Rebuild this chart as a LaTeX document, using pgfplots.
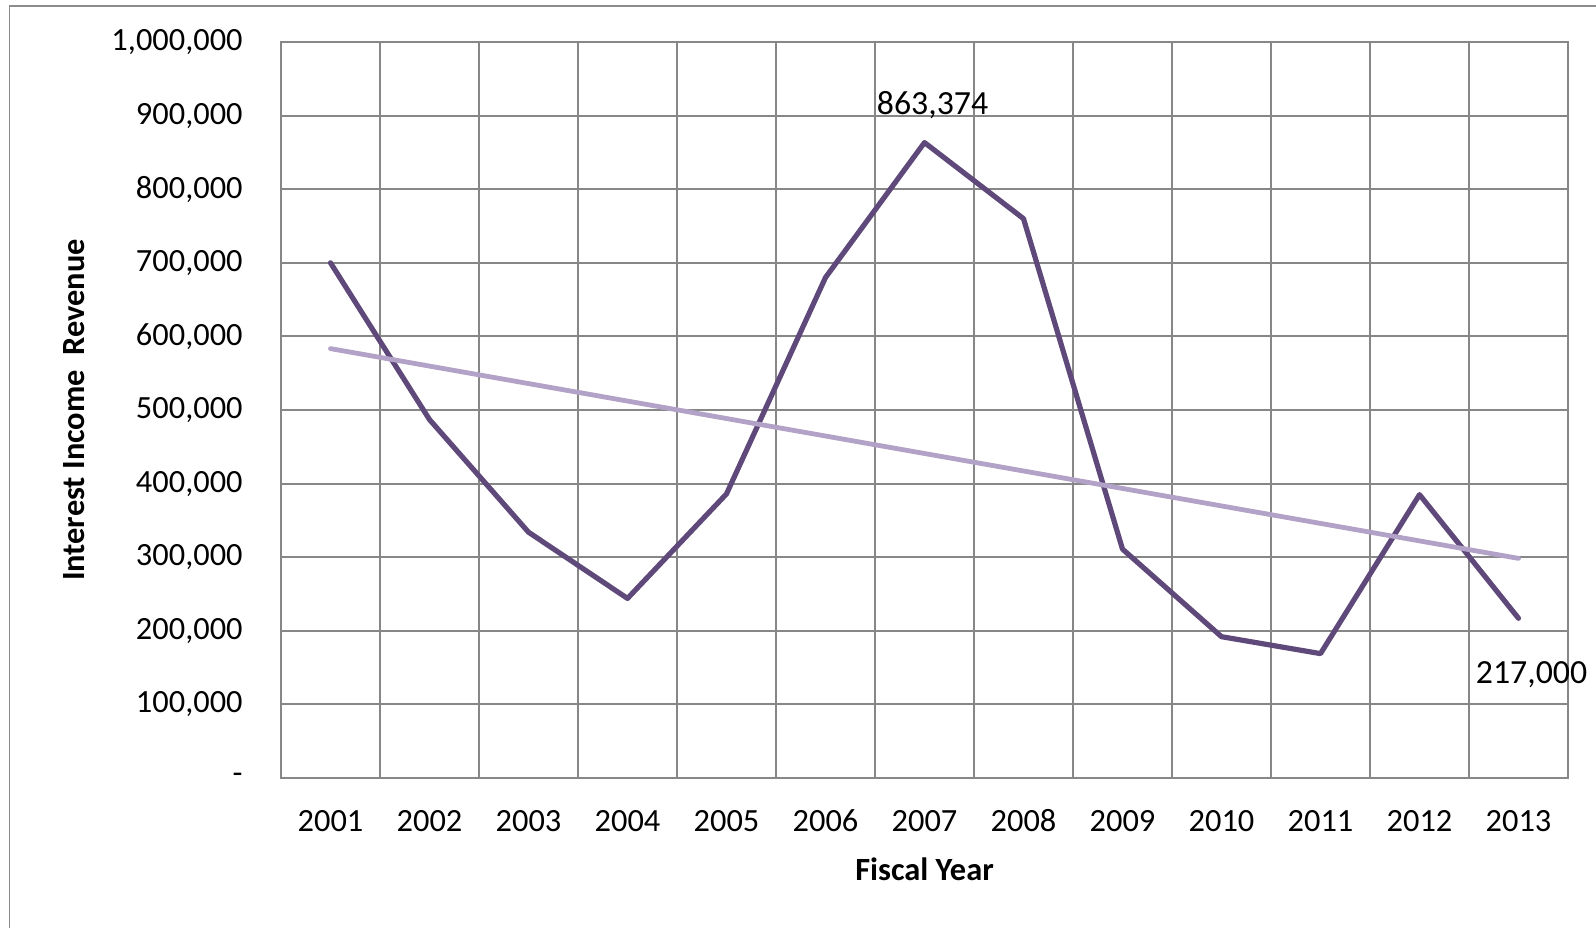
\documentclass[border=0pt]{standalone}
\usepackage{pgfplots}
\pgfplotsset{compat=1.18}
\usepackage{fontspec}
\setmainfont{Carlito}

\definecolor{gridgray}{HTML}{878787}
\definecolor{framegray}{HTML}{8C8C8C}
\definecolor{revenue}{HTML}{5F497A}
\definecolor{trend}{HTML}{B3A2C7}

\newcommand{\chartfont}{\fontsize{16.2}{19}\selectfont}
\newcommand{\valuefont}{\fontsize{16.9}{20}\selectfont}

\begin{document}
\begin{tikzpicture}
% page extent and the chart-area frame (left and top edges)
\useasboundingbox (-140.5pt,-74.5pt) rectangle (657.5pt,389pt);
\draw[framegray, line width=0.8pt] (-135.75pt,-80pt) -- (-135.75pt,386pt) -- (700pt,386pt);

\begin{axis}[
  at={(0,0)}, anchor=south west,
  scale only axis,
  width=643.5pt, height=368pt,
  xmin=0.5, xmax=13.5,
  ymin=0, ymax=1000000,
  xtick={1,...,13},
  xticklabels={2001,2002,2003,2004,2005,2006,2007,2008,2009,2010,2011,2012,2013},
  minor xtick={1.5,2.5,...,12.5},
  xminorgrids=true,
  ytick={0,100000,...,1000000},
  yticklabels={{-\hspace{7pt}},{100,000},{200,000},{300,000},{400,000},{500,000},{600,000},{700,000},{800,000},{900,000},{1,000,000}},
  ymajorgrids=true,
  major tick length=0pt, minor tick length=0pt,
  scaled y ticks=false,
  /pgf/number format/assume math mode=true,
  grid style={gridgray, line width=1pt},
  minor grid style={gridgray, line width=1pt},
  axis line style={gridgray, line width=1pt},
  tick label style={font=\chartfont, text=black},
  xticklabel style={anchor=base, inner sep=0pt, yshift=-26.85pt},
  yticklabel style={anchor=east, inner sep=0pt, xshift=-19pt},
  xlabel={Fiscal Year},
  ylabel={Interest Income~ Revenue},
  label style={font=\chartfont\bfseries, text=black},
  xlabel style={at={(axis description cs:0.5,0)}, anchor=base, yshift=-51pt, inner sep=0pt},
  ylabel style={at={(axis description cs:-0.1523,0.5)}, anchor=base, rotate=0, inner sep=0pt},
  clip=false,
]
% interest income revenue by fiscal year
\addplot[revenue, line width=2.6pt, line join=round, line cap=round] coordinates {
  (1,700000) (2,487000) (3,334000) (4,244000) (5,386000) (6,680000)
  (7,863374) (8,760000) (9,311000) (10,192000) (11,169000) (12,385000)
  (13,217000)
};
% linear trend
\addplot[trend, line width=2.4pt, line cap=round] coordinates {
  (1,583400) (13,298400)
};
\node[font=\valuefont, anchor=base, inner sep=0pt, xshift=4pt, yshift=13.8pt] at (axis cs:7,863374) {863,374};
\node[font=\valuefont, anchor=base, inner sep=0pt, xshift=6.5pt, yshift=-32.8pt] at (axis cs:13,217000) {217,000};
\end{axis}
\end{tikzpicture}
\end{document}
